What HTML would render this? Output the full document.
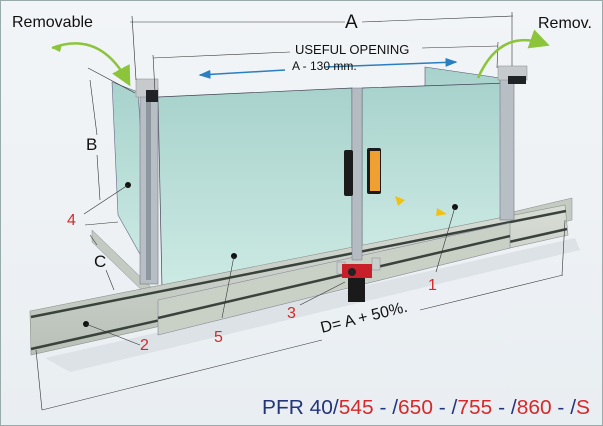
<!DOCTYPE html>
<html><head><style>
html,body{margin:0;padding:0;background:#eef2f5;}
svg{display:block;font-family:"Liberation Sans",sans-serif;}
</style></head><body>
<svg width="603" height="426" viewBox="0 0 603 426">
<defs>
<linearGradient id="bg" x1="0" y1="0" x2="0" y2="1"><stop offset="0" stop-color="#f2f5f7"/><stop offset="1" stop-color="#e9eef2"/></linearGradient>
<linearGradient id="gl" x1="0" y1="0" x2="0" y2="1"><stop offset="0" stop-color="#a8d2cc"/><stop offset="1" stop-color="#cdeae4"/></linearGradient>
<linearGradient id="rail" x1="0" y1="0" x2="0" y2="1"><stop offset="0" stop-color="#d8ddd6"/><stop offset="1" stop-color="#b8c0b8"/></linearGradient>
<marker id="ab" markerWidth="8" markerHeight="6" refX="7" refY="3" orient="auto"><path d="M0,0L8,3L0,6z" fill="#2a7fc0"/></marker>
<marker id="ag" markerWidth="8" markerHeight="8" refX="6" refY="4" orient="auto"><path d="M0,0L8,4L0,8z" fill="#8cc43c"/></marker>
</defs>
<rect width="603" height="426" fill="url(#bg)"/>
<rect x="0.5" y="0.5" width="602" height="425" fill="none" stroke="#9aa" />
<!-- shadow -->
<path d="M45,358 L575,238 L580,250 L70,372 Z" fill="#d8dee2" opacity="0.8"/>
<!-- right back side glass -->
<polygon points="425,67 500,78 500,215 425,195" fill="url(#gl)" stroke="#557" stroke-width="0.6"/>
<polygon points="418,178 495,205 495,215 418,188" fill="#c0c8c4" stroke="#889" stroke-width="0.5"/>
<!-- left side glass -->
<polygon points="112,82 138,92 150,272 118,215" fill="url(#gl)" stroke="#668" stroke-width="0.6"/>
<!-- main front glass -->
<polygon points="158,97 352,88 352,255 162,288" fill="url(#gl)" stroke="#445" stroke-width="0.7"/>
<!-- right front glass -->
<polygon points="362,88 510,83 510,222 362,255" fill="url(#gl)" stroke="#445" stroke-width="0.7"/>
<!-- back rail right -->
<polygon points="500,215 572,198 572,220 500,238" fill="#c3cbc3" stroke="#888" stroke-width="0.5"/>
<!-- left rail side -->
<polygon points="92,230 152,288 152,300 92,242" fill="#c2cac2" stroke="#889" stroke-width="0.5"/>
<!-- front rail long -->
<polygon points="30,311 565,205 568,235 31,355" fill="url(#rail)" stroke="#8a928a" stroke-width="0.6"/>
<line x1="31" y1="317" x2="566" y2="211" stroke="#3a423c" stroke-width="2.5"/>
<line x1="31" y1="349" x2="567" y2="229" stroke="#3a423c" stroke-width="2.5"/>
<!-- base under glass -->
<polygon points="158,300 510,223 510,248 158,335" fill="#c9d0c6" stroke="#889" stroke-width="0.6"/>
<line x1="158" y1="318" x2="510" y2="236" stroke="#3a423c" stroke-width="2.5"/>
<!-- posts -->
<rect x="140" y="88" width="18" height="196" fill="#b7bec4" stroke="#778" stroke-width="0.6"/>
<rect x="146" y="90" width="5" height="190" fill="#8e979f"/>
<rect x="136" y="79" width="22" height="18" fill="#c6cacd" stroke="#888" stroke-width="0.5"/>
<rect x="146" y="90" width="12" height="12" fill="#1f2326"/>
<rect x="352" y="88" width="10" height="172" fill="#b4bcc2" stroke="#778" stroke-width="0.5"/>
<rect x="500" y="75" width="14" height="145" fill="#b7bec4" stroke="#778" stroke-width="0.6"/>
<rect x="498" y="66" width="29" height="14" fill="#c6cacd" stroke="#888" stroke-width="0.5"/>
<rect x="508" y="76" width="18" height="8" fill="#1f2326"/>
<!-- safety sensors -->
<rect x="344" y="150" width="9" height="46" rx="2" fill="#1b1b1b"/>
<rect x="367" y="148" width="14" height="46" rx="2" fill="#1b1b1b"/>
<rect x="370" y="151" width="10" height="40" fill="#f0a030"/>
<!-- switch 3 -->
<rect x="337" y="262" width="8" height="12" fill="#c9cfcb" stroke="#889" stroke-width="0.5"/>
<rect x="372" y="258" width="8" height="12" fill="#c9cfcb" stroke="#889" stroke-width="0.5"/>
<rect x="342" y="264" width="30" height="14" fill="#c8202a"/>
<circle cx="352" cy="272" r="4" fill="#222"/>
<rect x="348" y="278" width="17" height="24" fill="#1a1a1a"/>
<!-- yellow arrows -->
<path d="M395,196 L405,200 L398,206 z" fill="#f4c010"/>
<path d="M437,208 L447,214 L436,216 z" fill="#f4c010"/>
<!-- dots -->
<circle cx="128" cy="185" r="3" fill="#111"/><circle cx="234" cy="256" r="3" fill="#111"/>
<circle cx="86" cy="324" r="3" fill="#111"/><circle cx="455" cy="207" r="3" fill="#111"/>
<g stroke="#333" stroke-width="0.6" fill="none">
<line x1="128" y1="185" x2="84" y2="214"/><line x1="234" y1="256" x2="222" y2="318"/>
<line x1="86" y1="324" x2="140" y2="345"/><line x1="455" y1="207" x2="436" y2="272"/>
<line x1="345" y1="282" x2="300" y2="305"/>
<line x1="130" y1="22" x2="345" y2="22"/><line x1="362" y1="22" x2="513" y2="16"/>
<line x1="132" y1="16" x2="136" y2="80"/><line x1="512" y1="12" x2="512" y2="66"/>
<line x1="153" y1="58" x2="290" y2="52"/><line x1="422" y1="48" x2="498" y2="46"/>
<line x1="153" y1="55" x2="155" y2="92"/><line x1="498" y1="42" x2="497" y2="68"/>
<line x1="88" y1="68" x2="135" y2="93"/><line x1="90" y1="80" x2="97" y2="135"/><line x1="97" y1="155" x2="100" y2="200"/>
<line x1="85" y1="225" x2="118" y2="222"/><line x1="90" y1="235" x2="97" y2="245"/><line x1="106" y1="270" x2="114" y2="290"/>
<line x1="42" y1="410" x2="322" y2="340"/><line x1="420" y1="310" x2="563" y2="275"/>
<line x1="36" y1="350" x2="42" y2="410"/><line x1="565" y1="220" x2="562" y2="275"/>
</g>
<line x1="285" y1="70" x2="200" y2="75" stroke="#2a7fc0" stroke-width="1.5" marker-end="url(#ab)"/>
<line x1="325" y1="67" x2="456" y2="62" stroke="#2a7fc0" stroke-width="1.5" marker-end="url(#ab)"/>
<path d="M52,48 Q100,30 128,82" fill="none" stroke="#8cc43c" stroke-width="2.5" marker-end="url(#ag)"/>
<path d="M52,48 l10,-4 l-2,8z" fill="#8cc43c"/>
<path d="M478,78 Q500,28 545,44" fill="none" stroke="#8cc43c" stroke-width="2.5" marker-end="url(#ag)"/>
<g fill="#111">
<text x="12" y="27" font-size="16">Removable</text>
<text x="538" y="28" font-size="16">Remov.</text>
<text x="345" y="28" font-size="19">A</text>
<text x="295" y="54" font-size="13">USEFUL OPENING</text>
<text x="292" y="70" font-size="12">A - 130 mm.</text>
<text x="86" y="150" font-size="17">B</text>
<text x="94" y="267" font-size="17">C</text>
<text x="322" y="333" font-size="16" transform="rotate(-14 322 333)">D= A + 50%.</text>
</g>
<g fill="#d42a2a" font-size="16">
<text x="67" y="225">4</text><text x="214" y="342">5</text><text x="287" y="318">3</text>
<text x="428" y="290">1</text><text x="140" y="350">2</text>
</g>
<text x="262" y="414" font-size="20" textLength="328" lengthAdjust="spacingAndGlyphs" fill="#23357a">PFR 40/<tspan fill="#d42a2a">545</tspan> - /<tspan fill="#d42a2a">650</tspan> - /<tspan fill="#d42a2a">755</tspan> - /<tspan fill="#d42a2a">860</tspan> - /<tspan fill="#d42a2a">S</tspan></text>
</svg>
</body></html>
